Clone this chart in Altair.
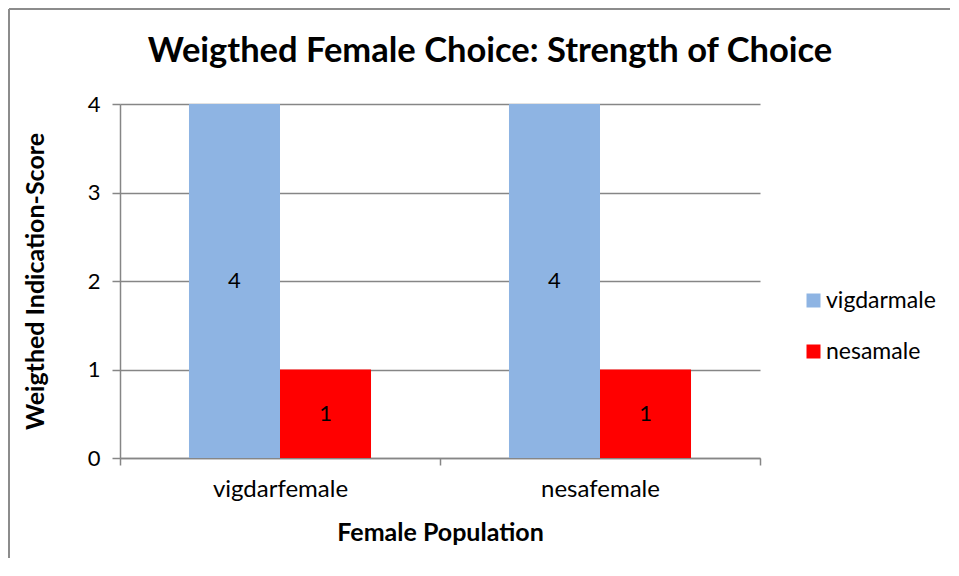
import altair as alt
import pandas as pd

categories = ["vigdarfemale", "vigdarfemale", "nesafemale", "nesafemale"]
series = ["vigdarmale", "nesamale", "vigdarmale", "nesamale"]
values = [4, 1, 4, 1]
cat_order = ["vigdarfemale", "nesafemale"]
series_order = ["vigdarmale", "nesamale"]
colors = ["#8EB4E3", "#FF0000"]
title_text = "Weigthed Female Choice: Strength of Choice"
y_title = "Weigthed Indication-Score"
x_title = "Female Population"

df = pd.DataFrame({"pop": categories, "male": series, "score": values})

FONT = "Lato"

x_enc = alt.X("pop:N", sort=cat_order, scale=alt.Scale(paddingInner=0, paddingOuter=0),
              axis=alt.Axis(title=x_title, labelAngle=0, tickBand="extent", tickSize=7,
                            labelFontSize=24, labelPadding=12, titleFontSize=25,
                            titleFontWeight="bold", titleY=74, titleBaseline="middle",
                            grid=False))
xoff = alt.XOffset("male:N", sort=series_order,
                   scale=alt.Scale(paddingOuter=0.758, paddingInner=0))
color = alt.Color("male:N", sort=series_order,
                  scale=alt.Scale(domain=series_order, range=colors),
                  legend=alt.Legend(title=None, orient="none", legendX=682, legendY=185,
                                    symbolType="square", symbolSize=196, symbolStrokeWidth=0,
                                    labelFontSize=23, rowPadding=27, labelOffset=1,
                                    labelLimit=300))

bars = alt.Chart(df).mark_bar(stroke=None).encode(
    x=x_enc,
    xOffset=xoff,
    y=alt.Y("score:Q", scale=alt.Scale(domain=[0, 4], nice=False),
            axis=alt.Axis(title=y_title, values=[0, 1, 2, 3, 4], format="d", tickSize=8,
                          labelFontSize=22, labelPadding=12, titleFontSize=25,
                          titleFontWeight="bold", titleX=-85, titleY=177,
                          titleAngle=-90, titleAlign="center", titleBaseline="middle")),
    color=color,
)

labels = alt.Chart(df).transform_calculate(mid="datum.score / 2").mark_text(
    fontSize=22, color="black", baseline="middle", align="center"
).encode(
    x=alt.X("pop:N", sort=cat_order),
    xOffset=alt.XOffset("male:N", sort=series_order),
    y=alt.Y("mid:Q"),
    text=alt.Text("score:Q"),
)

one = pd.DataFrame({"a": [0]})
title = alt.Chart(one).mark_text(text=title_text, fontSize=34.5, fontWeight="bold",
                                 align="center", baseline="alphabetic", color="black").encode(
    x=alt.value(370), y=alt.value(-42))
border_top = alt.Chart(one).mark_rule(color="#8c8c8c", strokeWidth=2).encode(
    x=alt.value(-111), x2=alt.value(840), y=alt.value(-95))
border_left = alt.Chart(one).mark_rule(color="#8c8c8c", strokeWidth=2).encode(
    x=alt.value(-111), y=alt.value(-95), y2=alt.value(460))

chart = alt.layer(bars, labels, title, border_top, border_left).properties(
    width=640, height=354,
    autosize=alt.AutoSizeParams(type="none"),
    padding={"left": 112, "top": 96, "right": 190, "bottom": 100},
).configure_view(stroke=None).configure_axis(
    labelFont=FONT, titleFont=FONT, labelColor="black", titleColor="black",
    domainColor="#868686", tickColor="#868686", gridColor="#868686",
    domainWidth=1.5, tickWidth=1.5, gridWidth=1.5,
).configure_legend(labelFont=FONT, labelColor="black").configure_text(font=FONT)

chart.save("out.html", embed_options={"renderer": "svg", "actions": False})
